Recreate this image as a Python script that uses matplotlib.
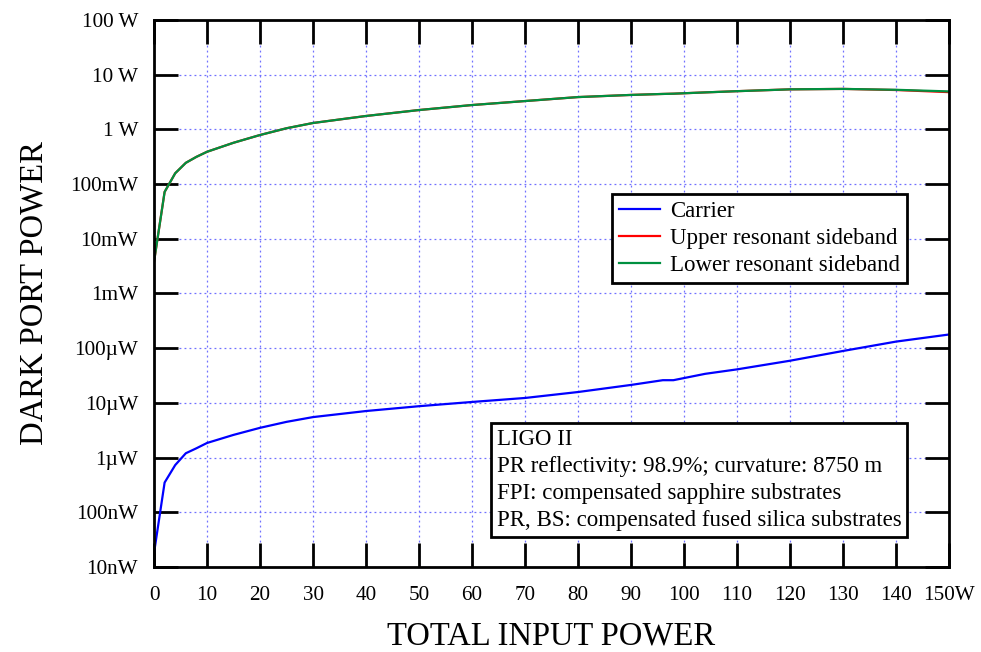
import matplotlib
matplotlib.use("Agg")
import matplotlib.pyplot as plt
from matplotlib.ticker import FixedLocator, NullLocator

# total input power (W)
power = [0, 2, 4, 6, 8, 10, 15, 20, 25, 30, 40, 50, 60, 70, 80, 90,
         96, 98, 104, 110, 120, 130, 140, 150]
# dark port power (W)
carrier = [1.8e-8, 3.5e-7, 7.3e-7, 1.2e-6, 1.48e-6, 1.85e-6, 2.6e-6,
           3.5e-6, 4.5e-6, 5.5e-6, 7.1e-6, 8.7e-6, 1.04e-5, 1.23e-5,
           1.58e-5, 2.13e-5, 2.6e-5, 2.6e-5, 3.4e-5, 4.1e-5, 5.9e-5,
           8.9e-5, 1.32e-4, 1.78e-4]
upper_sb = [3.8e-3, 0.072, 0.158, 0.245, 0.315, 0.39, 0.57, 0.79, 1.05,
            1.31, 1.76, 2.26, 2.79, 3.3, 3.9, 4.27, 4.45, 4.5, 4.75, 5.0,
            5.4, 5.5, 5.25, 4.8]
lower_sb = [3.8e-3, 0.072, 0.158, 0.245, 0.315, 0.39, 0.57, 0.79, 1.05,
            1.31, 1.76, 2.26, 2.79, 3.3, 3.9, 4.27, 4.45, 4.5, 4.75, 5.0,
            5.4, 5.5, 5.3, 4.95]

xticks = list(range(0, 151, 10))
xlabels = [str(v) for v in xticks[:-1]] + ["150W"]
yticks = [1e-8, 1e-7, 1e-6, 1e-5, 1e-4, 1e-3, 1e-2, 1e-1, 1, 10, 100]
ylabels = ["10nW", "100nW", "1\u00b5W", "10\u00b5W", "100\u00b5W", "1mW",
           "10mW", "100mW", "1 W", "10 W", "100 W"]

plt.rcParams["font.family"] = ["Liberation Serif", "DejaVu Serif"]

fig = plt.figure(figsize=(9.81, 6.52), dpi=100)
ax = fig.add_axes([0.157, 0.1304, 0.8104, 0.8389])

ax.plot(power, carrier, color="#0000ff", lw=1.6, label="Carrier")
ax.plot(power, upper_sb, color="#ff0000", lw=1.6,
        label="Upper resonant sideband")
ax.plot(power, lower_sb, color="#009040", lw=1.6,
        label="Lower resonant sideband")

ax.set_yscale("log")
ax.set_xlim(0, 150)
ax.set_ylim(1e-8, 100)
ax.xaxis.set_major_locator(FixedLocator(xticks))
ax.set_xticklabels(xlabels)
ax.yaxis.set_major_locator(FixedLocator(yticks))
ax.set_yticklabels(ylabels)
ax.yaxis.set_minor_locator(NullLocator())
ax.xaxis.set_minor_locator(NullLocator())

ax.grid(True, color="#7070ff", ls=(0, (1.5, 2.5)), lw=0.9)
ax.tick_params(direction="in", length=17, width=2, top=True, right=True,
               labelsize=15.2, colors="black")
ax.tick_params(axis="y", pad=11.5)
ax.tick_params(axis="x", pad=14)
for s in ax.spines.values():
    s.set_linewidth(2)

ax.set_xlabel("TOTAL INPUT POWER", fontsize=23.5, labelpad=11)
ax.set_ylabel("DARK PORT POWER", fontsize=23.5, labelpad=15)

leg = ax.legend(loc="upper left", bbox_to_anchor=(0.576, 0.681),
                fontsize=16.5, frameon=True, fancybox=False, framealpha=1,
                edgecolor="black", handlelength=1.8, handletextpad=0.45,
                borderpad=0.3, labelspacing=0.25, borderaxespad=0)
leg.get_frame().set_linewidth(2)

ax.text(0.431, 0.252,
        "LIGO II\nPR reflectivity: 98.9%; curvature: 8750 m\n"
        "FPI: compensated sapphire substrates\n"
        "PR, BS: compensated fused silica substrates",
        transform=ax.transAxes, ha="left", va="top", fontsize=16.5,
        linespacing=1.37,
        bbox=dict(boxstyle="square,pad=0.25", fc="white", ec="black", lw=2))

fig.savefig("out.png", dpi=100)
